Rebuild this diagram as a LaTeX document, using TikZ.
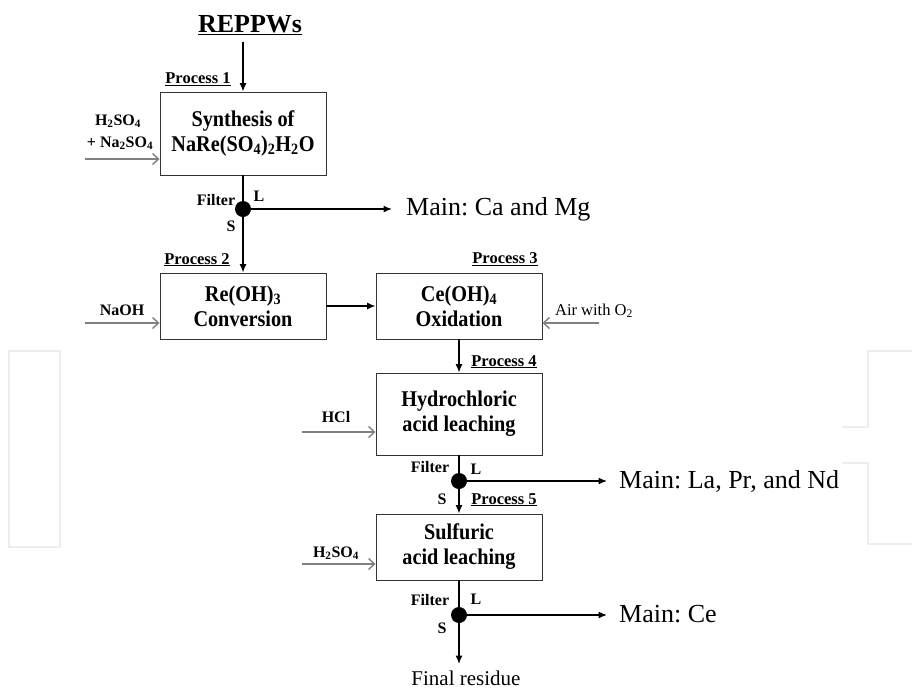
\documentclass[tikz,border=0pt]{standalone}
\usepackage{fontspec}
\setmainfont{Liberation Serif}
\newfontfamily\boxfont[FakeStretch=0.9]{Liberation Serif}
\usetikzlibrary{arrows.meta}
\frenchspacing
\begin{document}
\frenchspacing
\begin{tikzpicture}[x=1pt,y=-1pt,
  box/.style={draw=black!80, line width=0.9pt, minimum width=166pt, align=center,
    font=\boxfont\fontsize{22.5}{25}\selectfont\bfseries, inner sep=0pt},
  proc/.style={anchor=base, inner sep=0pt, font=\fontsize{16.5}{19}\selectfont\bfseries},
  lbl/.style={anchor=base, inner sep=0pt, font=\fontsize{16}{19}\selectfont\bfseries},
  lblr/.style={anchor=base, inner sep=0pt, font=\fontsize{16.5}{19}\selectfont},
  mainout/.style={anchor=base west, inner sep=0pt, font=\fontsize{26}{30}\selectfont},
  flow/.style={line width=1.3pt, -{Latex[length=8.5pt,width=7pt]}},
  plain/.style={line width=1.3pt},
  feed/.style={draw=black!50, line width=1.4pt, -{Straight Barb[length=6pt,width=11pt]}},
  filt/.style={circle, fill=black, minimum size=16pt, inner sep=0pt},
  wmark/.style={draw=black!7, line width=2.5pt}
]
\useasboundingbox (0,0) rectangle (912,689);
% faint background marks
\draw[wmark] (9,351) rectangle (60,547);
\draw[wmark] (912,351) -- (868,351) -- (868,427) -- (842,427);
\draw[wmark] (842,463) -- (868,463) -- (868,544) -- (912,544);

% title
\node[anchor=base, inner sep=0pt, font=\fontsize{26}{30}\selectfont\bfseries] (reppw) at (250,32) {\underline{REPPWs}};
\coordinate (top) at (243,42);

% boxes
\node[box, minimum height=83pt] (box1) at (243,133.5) {Synthesis of\\NaRe(SO\textsubscript{4})\textsubscript{2}H\textsubscript{2}O};
\node[box, minimum height=66pt] (box2) at (243,306) {Re(OH)\textsubscript{3}\\Conversion};
\node[box, minimum height=66pt] (box3) at (459,306) {Ce(OH)\textsubscript{4}\\Oxidation};
\node[box, minimum height=82pt] (box4) at (459,414) {Hydrochloric\\acid leaching};
\node[box, minimum height=66pt] (box5) at (459,547) {Sulfuric\\acid leaching};

% filter dots
\node[filt] (dot1) at (243,209) {};
\node[filt] (dot2) at (459,481) {};
\node[filt] (dot3) at (459,615) {};

% process labels
\node[proc] (p1) at (198,83.5) {\underline{Process 1}};
\node[proc] (p2) at (197,264) {\underline{Process 2}};
\node[proc] (p3) at (505,263.5) {\underline{Process 3}};
\node[proc] (p4) at (504,366) {\underline{Process 4}};
\node[proc] (p5) at (504,504) {\underline{Process 5}};

% filter labels
\node[lbl] (fl1) at (216,205.5) {Filter};
\node[lbl] (l1) at (259,201) {L};
\node[lbl] (s1) at (231,231) {S};
\node[lbl] (fl2) at (430,472.5) {Filter};
\node[lbl] (l2) at (476,474) {L};
\node[lbl] (s2) at (442,504) {S};
\node[lbl] (fl3) at (430,605.5) {Filter};
\node[lbl] (l3) at (476,604) {L};
\node[lbl] (s3) at (442,633) {S};

% side inputs
\node[lbl] (in1a) at (118,125) {H\textsubscript{2}SO\textsubscript{4}};
\node[lbl] (in1b) at (120,147) {+ Na\textsubscript{2}SO\textsubscript{4}};
\node[lbl] (in2) at (122,315) {NaOH};
\node[lblr] (in3) at (594,315) {Air with O\textsubscript{2}};
\node[lbl] (in4) at (336,422) {HCl};
\node[lbl] (in5) at (336,557) {H\textsubscript{2}SO\textsubscript{4}};

\coordinate (f1) at (85,159);
\coordinate (f2) at (85,323);
\coordinate (f3) at (599,323);
\coordinate (f4) at (302,432);
\coordinate (f5) at (302,564);
\draw[feed] (f1) -- (f1 -| box1.west);
\draw[feed] (f2) -- (f2 -| box2.west);
\draw[feed] (f3) -- (f3 -| box3.east);
\draw[feed] (f4) -- (f4 -| box4.west);
\draw[feed] (f5) -- (f5 -| box5.west);

% outputs
\node[mainout] (outCa) at (406,215) {Main: Ca and Mg};
\node[mainout] (outLa) at (619,488) {Main: La, Pr, and Nd};
\node[mainout] (outCe) at (619,622) {Main: Ce};
\node[anchor=base, inner sep=0pt, font=\fontsize{21}{25}\selectfont] (final) at (466,685) {Final residue};
\coordinate (tCa) at (392,209);
\coordinate (tLa) at (607,481);
\coordinate (tCe) at (607,615);
\coordinate (tF) at (459,664);

% main flow
\draw[flow] (top) -- (box1.north);
\draw[plain] (box1.south) -- (dot1.center);
\draw[flow] (dot1.center) -- (box2.north);
\draw[flow] (dot1.center) -- (tCa);
\draw[flow] (box2.east) -- (box3.west);
\draw[flow] (box3.south) -- (box4.north);
\draw[plain] (box4.south) -- (dot2.center);
\draw[flow] (dot2.center) -- (box5.north);
\draw[flow] (dot2.center) -- (tLa);
\draw[plain] (box5.south) -- (dot3.center);
\draw[flow] (dot3.center) -- (tF);
\draw[flow] (dot3.center) -- (tCe);
\end{tikzpicture}
\end{document}
